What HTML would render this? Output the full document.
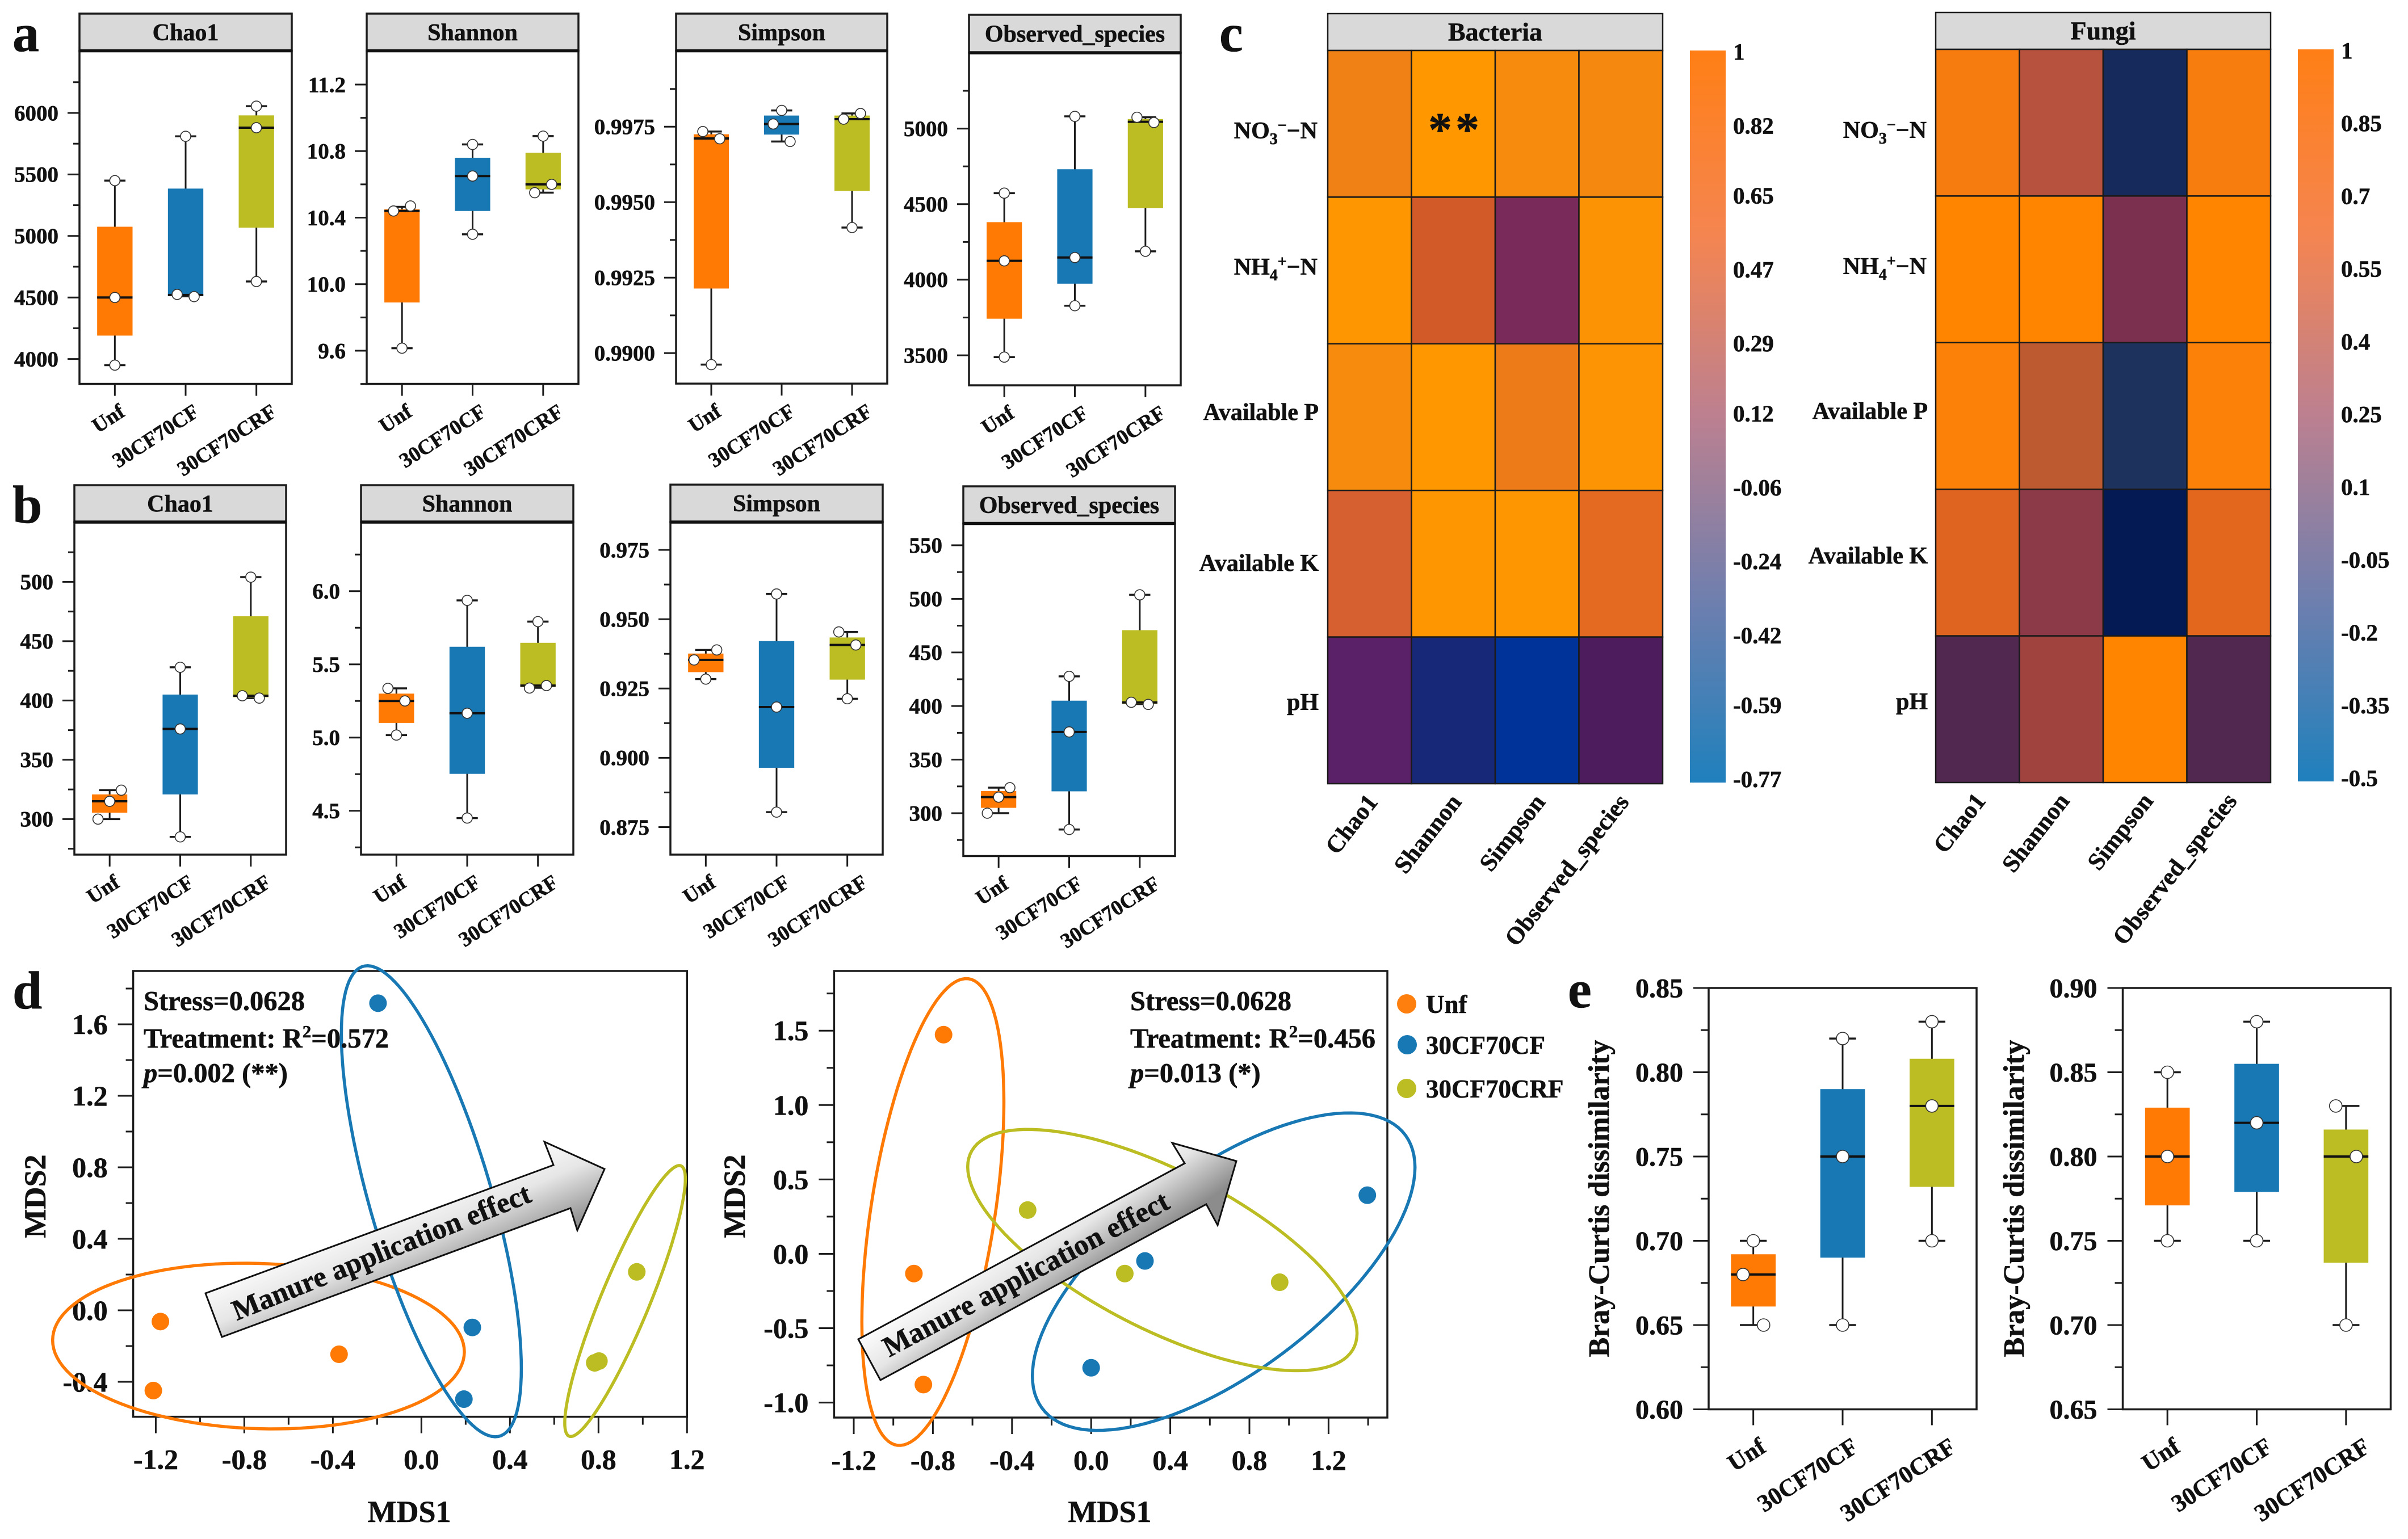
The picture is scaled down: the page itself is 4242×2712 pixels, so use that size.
<!DOCTYPE html>
<html lang="en">
<head>
<meta charset="utf-8">
<title>Microbial diversity, soil correlation and ordination figure</title>
<style>
html,body{margin:0;padding:0;background:#fff}
svg{display:block}
text{font-family:"Liberation Serif",serif;font-weight:700;fill:#111;stroke:#111;stroke-width:.6}
</style>
</head>
<body>
<svg id="figure" xmlns="http://www.w3.org/2000/svg" width="4242" height="2712" viewBox="0 0 4242 2712">
<defs>
<linearGradient id="cbar" x1="0" y1="0" x2="0" y2="1">
<stop offset="0" stop-color="#FF7F15"/><stop offset=".25" stop-color="#F58550"/><stop offset=".5" stop-color="#BC8090"/><stop offset=".75" stop-color="#6F7FAE"/><stop offset="1" stop-color="#1F80BD"/>
</linearGradient>
<linearGradient id="arrowL" gradientUnits="userSpaceOnUse" x1="650" y1="2130" x2="720" y2="2290">
<stop offset="0" stop-color="#ffffff"/><stop offset=".45" stop-color="#e6e6e6"/><stop offset="1" stop-color="#8c8c8c"/>
</linearGradient>
<linearGradient id="arrowR" gradientUnits="userSpaceOnUse" x1="1770" y1="2170" x2="1860" y2="2300">
<stop offset="0" stop-color="#ffffff"/><stop offset=".45" stop-color="#e6e6e6"/><stop offset="1" stop-color="#8c8c8c"/>
</linearGradient>
</defs>

<text x="22" y="90" font-size="94">a</text>
<text x="22" y="921" font-size="94">b</text>
<text x="2148" y="90" font-size="94">c</text>
<text x="22" y="1777" font-size="94">d</text>
<text x="2762" y="1775" font-size="94">e</text>

<g id="panels-box"></g>
<g id="panels-heat"></g>
<g id="panels-nmds"></g>

<g font-size="42" text-anchor="end">
<text x="2321" y="244">NO<tspan font-size="28" dy="10">3</tspan><tspan font-size="28" dy="-24">−</tspan><tspan dy="14">−N</tspan></text>
<text x="2321" y="484">NH<tspan font-size="28" dy="10">4</tspan><tspan font-size="28" dy="-24">+</tspan><tspan dy="14">−N</tspan></text>
<text x="2323" y="740">Available P</text>
<text x="2323" y="1006">Available K</text>
<text x="2323" y="1251">pH</text>
</g>
<g font-size="42" text-anchor="end">
<text x="3394" y="243">NO<tspan font-size="28" dy="10">3</tspan><tspan font-size="28" dy="-24">−</tspan><tspan dy="14">−N</tspan></text>
<text x="3394" y="483">NH<tspan font-size="28" dy="10">4</tspan><tspan font-size="28" dy="-24">+</tspan><tspan dy="14">−N</tspan></text>
<text x="3396" y="738">Available P</text>
<text x="3396" y="993">Available K</text>
<text x="3396" y="1250">pH</text>
</g>
<text x="2516" y="256" font-size="84" letter-spacing="6">**</text>

<text x="253" y="1780" font-size="48.5">Stress=0.0628</text>
<text x="253" y="1846" font-size="48.5">Treatment: R<tspan font-size="31" dy="-18">2</tspan><tspan dy="18">=0.572</tspan></text>
<text x="253" y="1907" font-size="48.5"><tspan font-style="italic">p</tspan>=0.002 (**)</text>
<text x="1991" y="1780" font-size="48.5">Stress=0.0628</text>
<text x="1991" y="1846" font-size="48.5">Treatment: R<tspan font-size="31" dy="-18">2</tspan><tspan dy="18">=0.456</tspan></text>
<text x="1991" y="1907" font-size="48.5"><tspan font-style="italic">p</tspan>=0.013 (*)</text>

<g>
<polygon points="362,2279 391,2356 1005,2129 1017,2168 1065,2060 959,2012 975,2053" fill="url(#arrowL)" stroke="#111" stroke-width="3"/>
<text x="678" y="2222" font-size="51" text-anchor="middle" transform="rotate(-22 678 2222)">Manure application effect</text>
</g>
<g>
<polygon points="1512,2360 1551,2432 2125,2122 2145,2159 2178,2046 2065,2014 2087,2050" fill="url(#arrowR)" stroke="#111" stroke-width="3"/>
<text x="1815" y="2260" font-size="51" text-anchor="middle" transform="rotate(-28 1815 2260)">Manure application effect</text>
</g>

<g font-size="45">
<circle cx="2478" cy="1769" r="17" fill="#FF7F0E"/>
<text x="2512" y="1785">Unf</text>
<circle cx="2479" cy="1841" r="17" fill="#1878B4"/>
<text x="2512" y="1857">30CF70CF</text>
<circle cx="2478" cy="1918" r="17" fill="#BCBD22"/>
<text x="2512" y="1934">30CF70CRF</text>
</g>

<text x="721" y="2682" font-size="54" text-anchor="middle">MDS1</text>
<text x="80" y="2108" font-size="54" text-anchor="middle" transform="rotate(-90 80 2108)">MDS2</text>
<text x="1955" y="2682" font-size="54" text-anchor="middle">MDS1</text>
<text x="1312" y="2108" font-size="54" text-anchor="middle" transform="rotate(-90 1312 2108)">MDS2</text>
<text x="2834" y="2112" font-size="52" text-anchor="middle" transform="rotate(-90 2834 2112)">Bray-Curtis dissimilarity</text>
<text x="3565" y="2112" font-size="52" text-anchor="middle" transform="rotate(-90 3565 2112)">Bray-Curtis dissimilarity</text>
</svg>

<script>
// ---------- shared categories ----------
const groups = ['Unf', '30CF70CF', '30CF70CRF'];
const groupColors = ['#FF7A05', '#1878B4', '#BCBD22'];

// ---------- panel a (min, q1, median, q3, max per group) ----------
const aChao1Ticks = ['4000', '4500', '5000', '5500', '6000'];
const aChao1Stats = [[3950, 4190, 4500, 5075, 5450], [4510, 4512, 4520, 5385, 5810], [4630, 5067, 5880, 5980, 6055]];
const aChao1Points = [[3950, 4500, 5450], [4507, 4525, 5810], [4630, 5880, 6055]];
const aChao1Dodge = [[0, 0, 0], [0.12, -0.12, 0], [0, 0, 0]];

const aShannonTicks = ['9.6', '10.0', '10.4', '10.8', '11.2'];
const aShannonStats = [[9.615, 9.89, 10.44, 10.45, 10.465], [10.30, 10.44, 10.65, 10.76, 10.84], [10.55, 10.57, 10.60, 10.79, 10.89]];
const aShannonPoints = [[9.615, 10.44, 10.47], [10.30, 10.65, 10.84], [10.55, 10.60, 10.89]];
const aShannonDodge = [[0, -0.12, 0.12], [0, 0, 0], [-0.12, 0.12, 0]];

const aSimpsonTicks = ['0.9900', '0.9925', '0.9950', '0.9975'];
const aSimpsonStats = [[0.98962, 0.99214, 0.99711, 0.99725, 0.99734], [0.99701, 0.99724, 0.99759, 0.99787, 0.99804], [0.99416, 0.99537, 0.99775, 0.99787, 0.99794]];
const aSimpsonPoints = [[0.98962, 0.9971, 0.99734], [0.99701, 0.99759, 0.99804], [0.99416, 0.99775, 0.99794]];
const aSimpsonDodge = [[0, 0.12, -0.12], [0.12, -0.12, 0], [0, -0.12, 0.12]];

const aObservedTicks = ['3500', '4000', '4500', '5000'];
const aObservedStats = [[3488, 3742, 4125, 4381, 4573], [3828, 3974, 4147, 4731, 5081], [4188, 4473, 5045, 5063, 5075]];
const aObservedPoints = [[3488, 4125, 4573], [3828, 4147, 5081], [4188, 5040, 5075]];
const aObservedDodge = [[0, 0, 0], [0, 0, 0], [0, 0.12, -0.12]];

// ---------- panel b ----------
const bChao1Ticks = ['300', '350', '400', '450', '500'];
const bChao1Stats = [[300, 305.4, 315, 320.8, 324.4], [285, 320.8, 376, 405, 428], [402, 402.7, 404, 471, 504]];
const bChao1Points = [[300, 315, 324.4], [285, 376, 428], [402, 404, 504]];
const bChao1Dodge = [[-0.165, 0, 0.165], [0, 0, 0], [0.12, -0.12, 0]];

const bShannonTicks = ['4.5', '5.0', '5.5', '6.0'];
const bShannonStats = [[5.017, 5.10, 5.25, 5.30, 5.336], [4.45, 4.752, 5.166, 5.62, 5.937], [5.34, 5.345, 5.355, 5.647, 5.792]];
const bShannonPoints = [[5.017, 5.25, 5.336], [4.45, 5.166, 5.937], [5.338, 5.355, 5.792]];
const bShannonDodge = [[0, 0.12, -0.12], [0, 0, 0], [-0.12, 0.12, 0]];

const bSimpsonTicks = ['0.875', '0.900', '0.925', '0.950', '0.975'];
const bSimpsonStats = [[0.9284, 0.9309, 0.9353, 0.9376, 0.9389], [0.8804, 0.8964, 0.9183, 0.9421, 0.9591], [0.9213, 0.9282, 0.9407, 0.9434, 0.9454]];
const bSimpsonPoints = [[0.9284, 0.9353, 0.9389], [0.8804, 0.9183, 0.9591], [0.9213, 0.9407, 0.9454]];
const bSimpsonDodge = [[0, -0.165, 0.155], [0, 0, 0], [0, 0.12, -0.12]];

const bObservedTicks = ['300', '350', '400', '450', '500', '550'];
const bObservedStats = [[300, 305, 315, 320.7, 323.8], [284.8, 320.4, 375.8, 405, 427.7], [401.9, 402, 403.3, 470.8, 503.8]];
const bObservedPoints = [[300, 315, 323.8], [284.8, 375.8, 427.7], [401.5, 403.5, 503.8]];
const bObservedDodge = [[-0.16, 0, 0.16], [0, 0, 0], [0.12, -0.12, 0]];

// ---------- panel e ----------
const eLeftTicks = ['0.60', '0.65', '0.70', '0.75', '0.80', '0.85'];
const eLeftStats = [[0.65, 0.661, 0.68, 0.692, 0.70], [0.65, 0.69, 0.75, 0.79, 0.82], [0.70, 0.732, 0.78, 0.808, 0.83]];
const eLeftPoints = [[0.65, 0.68, 0.70], [0.65, 0.75, 0.82], [0.70, 0.78, 0.83]];
const eLeftDodge = [[0.115, -0.115, 0], [0, 0, 0], [0, 0, 0]];

const eRightTicks = ['0.65', '0.70', '0.75', '0.80', '0.85', '0.90'];
const eRightStats = [[0.75, 0.771, 0.80, 0.829, 0.85], [0.75, 0.779, 0.82, 0.855, 0.88], [0.70, 0.737, 0.80, 0.816, 0.83]];
const eRightPoints = [[0.75, 0.80, 0.85], [0.75, 0.82, 0.88], [0.70, 0.80, 0.83]];
const eRightDodge = [[0, 0, 0], [0, 0, 0], [0, 0.115, -0.115]];

// ---------- panel c ----------
const heatColumns = ['Chao1', 'Shannon', 'Simpson', 'Observed_species'];
const bacteriaValues = [
  [0.80, 1.00, 0.88, 0.86],
  [0.98, 0.50, -0.10, 0.95],
  [0.88, 1.00, 0.76, 0.96],
  [0.55, 0.98, 0.98, 0.65],
  [-0.30, -0.60, -0.77, -0.40]
];
const bacteriaTicks = ['1', '0.82', '0.65', '0.47', '0.29', '0.12', '-0.06', '-0.24', '-0.42', '-0.59', '-0.77'];
const fungiValues = [
  [0.92, 0.55, -0.40, 0.93],
  [1.00, 1.00, 0.10, 1.00],
  [0.96, 0.65, -0.30, 0.96],
  [0.80, 0.30, -0.50, 0.82],
  [-0.05, 0.45, 1.00, -0.05]
];
const fungiTicks = ['1', '0.85', '0.7', '0.55', '0.4', '0.25', '0.1', '-0.05', '-0.2', '-0.35', '-0.5'];
const bacteriaColorValues = [-0.77, -0.60, -0.40, -0.30, -0.10, 0.50, 0.55, 0.65, 0.80, 1.00];
const bacteriaColorStops = ['#003399', '#182878', '#4C1C5C', '#5A2068', '#7A2A5A', '#D25A28', '#D76030', '#E36A20', '#F08215', '#FF9800'];
const fungiColorValues = [-0.50, -0.40, -0.30, -0.05, 0.10, 0.30, 0.45, 0.55, 0.65, 0.80, 0.92, 1.00];
const fungiColorStops = ['#041A54', '#162A5C', '#1E325E', '#502850', '#7C3050', '#8C3A48', '#A0423E', '#B7523E', '#BE5A30', '#DF6420', '#F67C10', '#FF8500'];

// ---------- panel d ----------
const dLeftXTicks = ['-1.2', '-0.8', '-0.4', '0.0', '0.4', '0.8', '1.2'];
const dLeftYTicks = ['-0.4', '0.0', '0.4', '0.8', '1.2', '1.6'];
const dLeftMds1 = [[-1.179, -1.211, -0.372], [-0.196, 0.23, 0.192], [0.973, 0.783, 0.802]];
const dLeftMds2 = [[-0.063, -0.449, -0.246], [1.718, -0.096, -0.497], [0.215, -0.294, -0.284]];
const dLeftEllipseCenterX = [-0.736, 0.045, 0.92];
const dLeftEllipseCenterY = [-0.20, 0.61, 0.052];
const dLeftEllipseSpreadX = [0.93, 0.4065, 0.2724];
const dLeftEllipseSpreadY = [0.4635, 1.3176, 0.758];
const dLeftEllipseRho = [-0.07, -0.71, 0.90];

const dRightXTicks = ['-1.2', '-0.8', '-0.4', '0.0', '0.4', '0.8', '1.2'];
const dRightYTicks = ['-1.0', '-0.5', '0.0', '0.5', '1.0', '1.5'];
const dRightMds1 = [[-0.746, -0.896, -0.848], [1.396, 0.272, 0], [-0.321, 0.17, 0.953]];
const dRightMds2 = [[1.473, -0.133, -0.879], [0.394, -0.048, -0.766], [0.294, -0.133, -0.191]];
const dRightEllipseCenterX = [-0.80, 0.67, 0.36];
const dRightEllipseCenterY = [0.281, -0.12, 0.025];
const dRightEllipseSpreadX = [0.359, 0.967, 0.984];
const dRightEllipseSpreadY = [1.569, 1.067, 0.811];
const dRightEllipseRho = [0.47, 0.657, -0.69];

// ---------- drawing helpers ----------
const NS = 'http://www.w3.org/2000/svg';
const INK = '#1c1c1c';
function make(tag, parent, geometry) {
  const node = document.createElementNS(NS, tag);
  Object.keys(geometry || {}).forEach(function (key) { node.setAttribute(key, geometry[key]); });
  parent.appendChild(node);
  return node;
}
function linearScale(valueA, pixelA, valueB, pixelB) {
  return function (v) { return pixelA + (v - valueA) * (pixelB - pixelA) / (valueB - valueA); };
}
function minorValues(labels) {
  const majors = labels.map(Number);
  const step = majors[1] - majors[0];
  const out = [majors[0] - step / 2];
  majors.forEach(function (m) { out.push(m + step / 2); });
  return out;
}
function drawYTicks(g, y, labels, frameX, top, bottom, opt) {
  labels.forEach(function (label) {
    const py = y(Number(label));
    const tick = make('line', g, { x1: frameX - opt.major, x2: frameX, y1: py, y2: py, stroke: INK, 'stroke-width': 3 });
    
    
    const text = make('text', g, { x: frameX - opt.major - opt.gap, y: py + opt.font * 0.34, 'font-size': opt.font, 'text-anchor': 'end' });
    text.textContent = label;
    
    
  });
  minorValues(labels).forEach(function (v) {
    const py = y(v);
    if (py < top + 3 || py > bottom + 1) return;
    const tick = make('line', g, { x1: frameX - opt.minor, x2: frameX, y1: py, y2: py, stroke: INK, 'stroke-width': 3 });
    
    
  });
}

// ---------- boxplots ----------
function drawBoxPanel(cfg) {
  const root = document.getElementById('panels-box');
  const g = make('g', root);
  
  
  const band = (cfg.x1 - cfg.x0) / groups.length;
  const x = function (i) { return cfg.x0 + (i + 0.5) * band; };
  const y = linearScale(cfg.vA, cfg.pA, cfg.vB, cfg.pB);

  const frame = make('rect', g, { x: cfg.x0, y: cfg.top, width: cfg.x1 - cfg.x0, height: cfg.bottom - cfg.top, fill: '#fff', stroke: INK, 'stroke-width': 3.5 });
  
  

  if (cfg.title) {
    const strip = make('rect', g, { x: cfg.x0, y: cfg.stripTop, width: cfg.x1 - cfg.x0, height: cfg.top - cfg.stripTop, fill: '#D9D9D9', stroke: INK, 'stroke-width': 3.5 });
    
    
    const rule = make('line', g, { x1: cfg.x0, x2: cfg.x1, y1: cfg.top, y2: cfg.top, stroke: '#111', 'stroke-width': 5.5 });
    
    
    const title = make('text', g, { x: (cfg.x0 + cfg.x1) / 2, y: (cfg.stripTop + cfg.top) / 2 + 14, 'font-size': 42, 'text-anchor': 'middle' });
    title.textContent = cfg.title;
    
    
  }

  drawYTicks(g, y, cfg.ticks, cfg.x0, cfg.top, cfg.bottom, cfg.axis);

  groups.forEach(function (group, i) {
    const s = cfg.stats[i];
    const cx = x(i);
    const whisker = make('line', g, { x1: cx, x2: cx, y1: y(s[0]), y2: y(s[4]), stroke: INK, 'stroke-width': 3 });
    
    
    [s[0], s[4]].forEach(function (v) {
      const cap = make('line', g, { x1: cx - band * 0.15, x2: cx + band * 0.15, y1: y(v), y2: y(v), stroke: INK, 'stroke-width': 3.5 });
      
      
    });
    const box = make('rect', g, { x: cx - band * 0.25, y: y(s[3]), width: band * 0.5, height: Math.max(1, y(s[1]) - y(s[3])), fill: groupColors[i] });
    
    
    const median = make('line', g, { x1: cx - band * 0.25, x2: cx + band * 0.25, y1: y(s[2]), y2: y(s[2]), stroke: '#111', 'stroke-width': 4 });
    
    
    cfg.points[i].forEach(function (v, k) {
      const pt = make('circle', g, { cx: cx + cfg.dodge[i][k] * band, cy: y(v), r: cfg.pointR, fill: '#fff', stroke: '#333', 'stroke-width': 1.6 });
      
      
    });
    const xt = make('line', g, { x1: cx, x2: cx, y1: cfg.bottom, y2: cfg.bottom + cfg.xTick, stroke: INK, 'stroke-width': 3 });
    
    
    const lx = cx + cfg.labelDx[i];
    const ly = cfg.bottom + cfg.labelDy;
    const lab = make('text', g, { x: lx, y: ly, 'font-size': cfg.catFont, 'text-anchor': 'end', transform: 'rotate(-33 ' + lx + ' ' + ly + ')' });
    lab.textContent = group;
    
    
  });
}
const smallAxis = { major: 21, minor: 11, gap: 16, font: 39 };
const smallLabels = { pointR: 9, xTick: 21, labelDx: [20, 26, 38], labelDy: 55, catFont: 37 };
function small(cfg) { drawBoxPanel(Object.assign({ axis: smallAxis }, smallLabels, cfg)); }

small({ name: 'a-chao1-panel', title: 'Chao1', x0: 140, x1: 514, stripTop: 24, top: 89.5, bottom: 676.5, vA: 4000, pA: 632.6, vB: 6000, pB: 199, ticks: aChao1Ticks, stats: aChao1Stats, points: aChao1Points, dodge: aChao1Dodge });
small({ name: 'a-shannon-panel', title: 'Shannon', x0: 646, x1: 1019, stripTop: 24, top: 89.5, bottom: 676.5, vA: 9.6, pA: 618, vB: 11.2, pB: 149, ticks: aShannonTicks, stats: aShannonStats, points: aShannonPoints, dodge: aShannonDodge });
small({ name: 'a-simpson-panel', title: 'Simpson', x0: 1191, x1: 1563, stripTop: 24, top: 89.5, bottom: 676, vA: 0.99, pA: 622.3, vB: 0.9975, pB: 223.3, ticks: aSimpsonTicks, stats: aSimpsonStats, points: aSimpsonPoints, dodge: aSimpsonDodge });
small({ name: 'a-observed-species-panel', title: 'Observed_species', x0: 1707, x1: 2080, stripTop: 26, top: 93, bottom: 679, vA: 3500, pA: 626.1, vB: 5000, pB: 226.6, ticks: aObservedTicks, stats: aObservedStats, points: aObservedPoints, dodge: aObservedDodge });

small({ name: 'b-chao1-panel', title: 'Chao1', x0: 131, x1: 504, stripTop: 855, top: 920, bottom: 1506, vA: 300, pA: 1443.4, vB: 500, pB: 1025.4, ticks: bChao1Ticks, stats: bChao1Stats, points: bChao1Points, dodge: bChao1Dodge });
small({ name: 'b-shannon-panel', title: 'Shannon', x0: 636, x1: 1010, stripTop: 855, top: 920, bottom: 1506, vA: 4.5, pA: 1428.7, vB: 6, pB: 1041.7, ticks: bShannonTicks, stats: bShannonStats, points: bShannonPoints, dodge: bShannonDodge });
small({ name: 'b-simpson-panel', title: 'Simpson', x0: 1181, x1: 1555, stripTop: 854, top: 920, bottom: 1506, vA: 0.875, pA: 1457.5, vB: 0.975, pB: 969, ticks: bSimpsonTicks, stats: bSimpsonStats, points: bSimpsonPoints, dodge: bSimpsonDodge });
small({ name: 'b-observed-species-panel', title: 'Observed_species', x0: 1697, x1: 2070, stripTop: 857, top: 922.5, bottom: 1508.5, vA: 300, pA: 1433, vB: 550, pB: 960.9, ticks: bObservedTicks, stats: bObservedStats, points: bObservedPoints, dodge: bObservedDodge });

const eAxis = { major: 27, minor: 14, gap: 18, font: 48 };
drawBoxPanel({ name: 'e-left-panel', x0: 3010, x1: 3482, top: 1741, bottom: 2483.5, vA: 0.6, pA: 2483.5, vB: 0.85, pB: 1741, ticks: eLeftTicks, stats: eLeftStats, points: eLeftPoints, dodge: eLeftDodge, axis: eAxis, pointR: 11, xTick: 28, labelDx: [25, 30, 45], labelDy: 73, catFont: 43 });
drawBoxPanel({ name: 'e-right-panel', x0: 3739.5, x1: 4211.5, top: 1741, bottom: 2483.5, vA: 0.65, pA: 2483.5, vB: 0.9, pB: 1741, ticks: eRightTicks, stats: eRightStats, points: eRightPoints, dodge: eRightDodge, axis: eAxis, pointR: 11, xTick: 28, labelDx: [25, 30, 45], labelDy: 73, catFont: 43 });

// ---------- heatmaps ----------
function hexToRgb(h) { return [1, 3, 5].map(function (i) { return parseInt(h.substr(i, 2), 16); }); }
function colorScale(values, stops) {
  return function (v) {
    let i = 0;
    while (i < values.length - 2 && v > values[i + 1]) i++;
    const t = Math.min(1, Math.max(0, (v - values[i]) / (values[i + 1] - values[i])));
    const a = hexToRgb(stops[i]);
    const b = hexToRgb(stops[i + 1]);
    return 'rgb(' + a.map(function (c, k) { return Math.round(c + (b[k] - c) * t); }).join(',') + ')';
  };
}
function drawHeat(cfg) {
  const root = document.getElementById('panels-heat');
  const g = make('g', root);
  
  
  const strip = make('rect', g, { x: cfg.x0, y: cfg.stripTop, width: cfg.x1 - cfg.x0, height: cfg.top - cfg.stripTop, fill: '#D9D9D9', stroke: INK, 'stroke-width': 2.5 });
  
  
  const title = make('text', g, { x: (cfg.x0 + cfg.x1) / 2, y: (cfg.stripTop + cfg.top) / 2 + 15, 'font-size': 46, 'text-anchor': 'middle' });
  title.textContent = cfg.title;
  
  

  const color = colorScale(cfg.colorValues, cfg.colorStops);
  const rowCount = cfg.values.length;
  const w = (cfg.x1 - cfg.x0) / heatColumns.length;
  const h = (cfg.bottom - cfg.top) / rowCount;
  cfg.values.forEach(function (row, r) {
    row.forEach(function (v, c) {
      const cell = make('rect', g, { x: cfg.x0 + c * w, y: cfg.top + r * h, width: w, height: h, fill: color(v), stroke: '#1a1a1a', 'stroke-width': 2.5 });
      
      
    });
  });
  heatColumns.forEach(function (name, c) {
    const lx = cfg.x0 + (c + 0.5) * w + 16;
    const ly = cfg.bottom + 33;
    const lab = make('text', g, { x: lx, y: ly, 'font-size': 43, 'text-anchor': 'end', transform: 'rotate(-52 ' + lx + ' ' + ly + ')' });
    lab.textContent = name;
    
    
  });
  const bar = make('rect', g, { x: cfg.barX, y: cfg.top, width: 63, height: cfg.barBottom - cfg.top, fill: 'url(#cbar)' });
  
  
  const vals = cfg.ticks.map(Number);
  const barY = linearScale(vals[0], cfg.top + 4, vals[vals.length - 1], cfg.barBottom - 4);
  cfg.ticks.forEach(function (label, i) {
    const t = make('text', g, { x: cfg.barX + 76, y: barY(vals[i]) + 12, 'font-size': 41 });
    t.textContent = label;
    
    
  });
}
drawHeat({ name: 'c-bacteria-heatmap', title: 'Bacteria', x0: 2339, x1: 2929, stripTop: 24, top: 89, bottom: 1381, barX: 2977, barBottom: 1379, values: bacteriaValues, ticks: bacteriaTicks, colorValues: bacteriaColorValues, colorStops: bacteriaColorStops });
drawHeat({ name: 'c-fungi-heatmap', title: 'Fungi', x0: 3410, x1: 4000, stripTop: 22, top: 87, bottom: 1379, barX: 4048, barBottom: 1377, values: fungiValues, ticks: fungiTicks, colorValues: fungiColorValues, colorStops: fungiColorStops });

// ---------- NMDS ----------
function drawNmds(cfg) {
  const root = document.getElementById('panels-nmds');
  const g = make('g', root);
  
  
  const x = linearScale(cfg.xVA, cfg.xPA, cfg.xVB, cfg.xPB);
  const y = linearScale(cfg.yVA, cfg.yPA, cfg.yVB, cfg.yPB);
  const frame = make('rect', g, { x: cfg.x0, y: cfg.top, width: cfg.x1 - cfg.x0, height: cfg.bottom - cfg.top, fill: '#fff', stroke: INK, 'stroke-width': 3.5 });
  
  
  drawYTicks(g, y, cfg.yTicks, cfg.x0, cfg.top, cfg.bottom, { major: 27, minor: 13, gap: 18, font: 50 });
  cfg.xTicks.forEach(function (label) {
    const px = x(Number(label));
    const tick = make('line', g, { x1: px, x2: px, y1: cfg.bottom, y2: cfg.bottom + 29, stroke: INK, 'stroke-width': 3 });
    
    
    const text = make('text', g, { x: px, y: cfg.bottom + 92, 'font-size': 50, 'text-anchor': 'middle' });
    text.textContent = label;
    
    
  });
  minorValues(cfg.xTicks).forEach(function (v) {
    const px = x(v);
    if (px < cfg.x0 || px > cfg.x1) return;
    const tick = make('line', g, { x1: px, x2: px, y1: cfg.bottom, y2: cfg.bottom + 14, stroke: INK, 'stroke-width': 3 });
    
    
  });
  groups.forEach(function (group, i) {
    const d = [];
    for (let k = 0; k <= 120; k++) {
      const t = k / 120 * Math.PI * 2;
      const ex = cfg.cx[i] + cfg.sx[i] * Math.cos(t);
      const ey = cfg.cy[i] + cfg.sy[i] * (cfg.rho[i] * Math.cos(t) + Math.sqrt(1 - cfg.rho[i] * cfg.rho[i]) * Math.sin(t));
      d.push((k ? 'L' : 'M') + x(ex).toFixed(1) + ' ' + y(ey).toFixed(1));
    }
    const ellipse = make('path', g, { d: d.join('') + 'Z', fill: 'none', stroke: groupColors[i], 'stroke-width': 5.5 });
    
    
  });
  groups.forEach(function (group, i) {
    cfg.mds1[i].forEach(function (v, k) {
      const pt = make('circle', g, { cx: x(v), cy: y(cfg.mds2[i][k]), r: 15.5, fill: groupColors[i] });
      
      
    });
  });
}
drawNmds({ name: 'd-left-nmds', x0: 234.6, x1: 1210.3, top: 1711, bottom: 2496.6, xVA: -1.2, xPA: 274.4, xVB: 1.2, xPB: 1210.3, yVA: -0.4, yPA: 2435, yVB: 1.6, yPB: 1805, xTicks: dLeftXTicks, yTicks: dLeftYTicks, mds1: dLeftMds1, mds2: dLeftMds2, cx: dLeftEllipseCenterX, cy: dLeftEllipseCenterY, sx: dLeftEllipseSpreadX, sy: dLeftEllipseSpreadY, rho: dLeftEllipseRho });
drawNmds({ name: 'd-right-nmds', x0: 1469.4, x1: 2444, top: 1711, bottom: 2498, xVA: -1.2, xPA: 1504, xVB: 1.2, xPB: 2340.4, yVA: -1, yPA: 2471.6, yVB: 1.5, yPB: 1816.2, xTicks: dRightXTicks, yTicks: dRightYTicks, mds1: dRightMds1, mds2: dRightMds2, cx: dRightEllipseCenterX, cy: dRightEllipseCenterY, sx: dRightEllipseSpreadX, sy: dRightEllipseSpreadY, rho: dRightEllipseRho });

// keep annotations and arrows above plot groups
const figure = document.getElementById('figure');
figure.insertBefore(document.getElementById('panels-box'), figure.children[1]);
figure.insertBefore(document.getElementById('panels-heat'), figure.children[2]);
figure.insertBefore(document.getElementById('panels-nmds'), figure.children[3]);
</script>
</body>
</html>
